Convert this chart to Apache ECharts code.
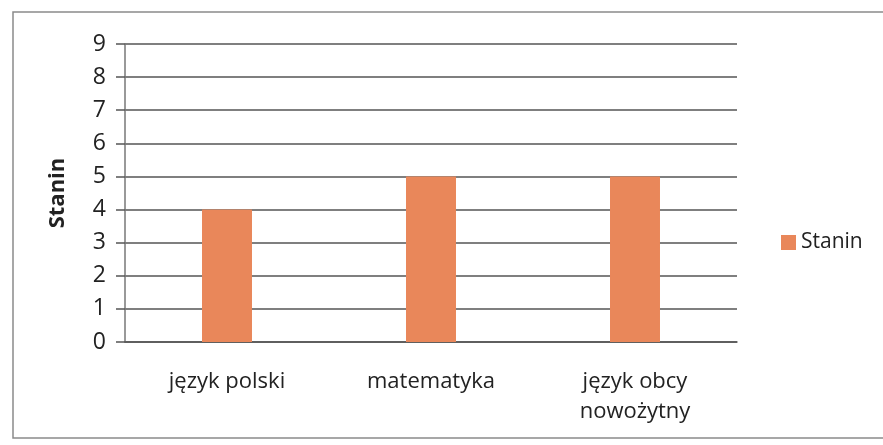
<!DOCTYPE html>
<html><head><meta charset="utf-8">
<script src="https://cdn.jsdelivr.net/npm/echarts@6/dist/echarts.min.js"></script>
<style>html,body{margin:0;padding:0;background:#fff}#c{width:883px;height:445px}</style>
</head><body><div id="c"></div>
<script>
const categories = ['język polski', 'matematyka', 'język obcy\nnowożytny'];
const staninValues = [4, 5, 5];
const seriesName = 'Stanin';
const yAxisName = 'Stanin';

const chart = echarts.init(document.getElementById('c'));
const font = '"Open Sans", "Noto Sans", sans-serif';
chart.setOption({
  animation: false,
  backgroundColor: '#fff',
  graphic: [{
    type: 'rect', shape: {x: 13, y: 12, width: 880, height: 426},
    style: {fill: 'none', stroke: '#8a8a8a', lineWidth: 1.5}, silent: true
  }],
  grid: {left: 125, right: 146, top: 44, bottom: 103, containLabel: false},
  legend: {
    data: [seriesName], orient: 'vertical', left: 776, top: 227,
    icon: 'rect', itemWidth: 15, itemHeight: 15, itemGap: 6,
    textStyle: {fontFamily: font, fontSize: 21, color: '#222'}
  },
  xAxis: {
    type: 'category', data: categories,
    axisLine: {show: true, lineStyle: {color: '#555', width: 1.5}},
    axisTick: {show: false},
    axisLabel: {fontFamily: font, fontSize: 22, color: '#222', margin: 25, lineHeight: 30}
  },
  yAxis: {
    type: 'value', min: 0, max: 9, interval: 1,
    name: yAxisName, nameLocation: 'middle', nameGap: 56, nameRotate: 90,
    nameTextStyle: {fontFamily: font, fontSize: 22, fontWeight: 'bold', color: '#222'},
    axisLine: {show: true, lineStyle: {color: '#777', width: 1.5}},
    axisTick: {show: true, length: 9, lineStyle: {color: '#555', width: 1.5}},
    axisLabel: {fontFamily: font, fontSize: 23, color: '#222', margin: 19},
    splitLine: {show: true, lineStyle: {color: '#555', width: 1.5}}
  },
  series: [{
    name: seriesName, type: 'bar', data: staninValues, barWidth: '24.5%',
    itemStyle: {color: '#E9875A'}
  }]
});
</script></body></html>
